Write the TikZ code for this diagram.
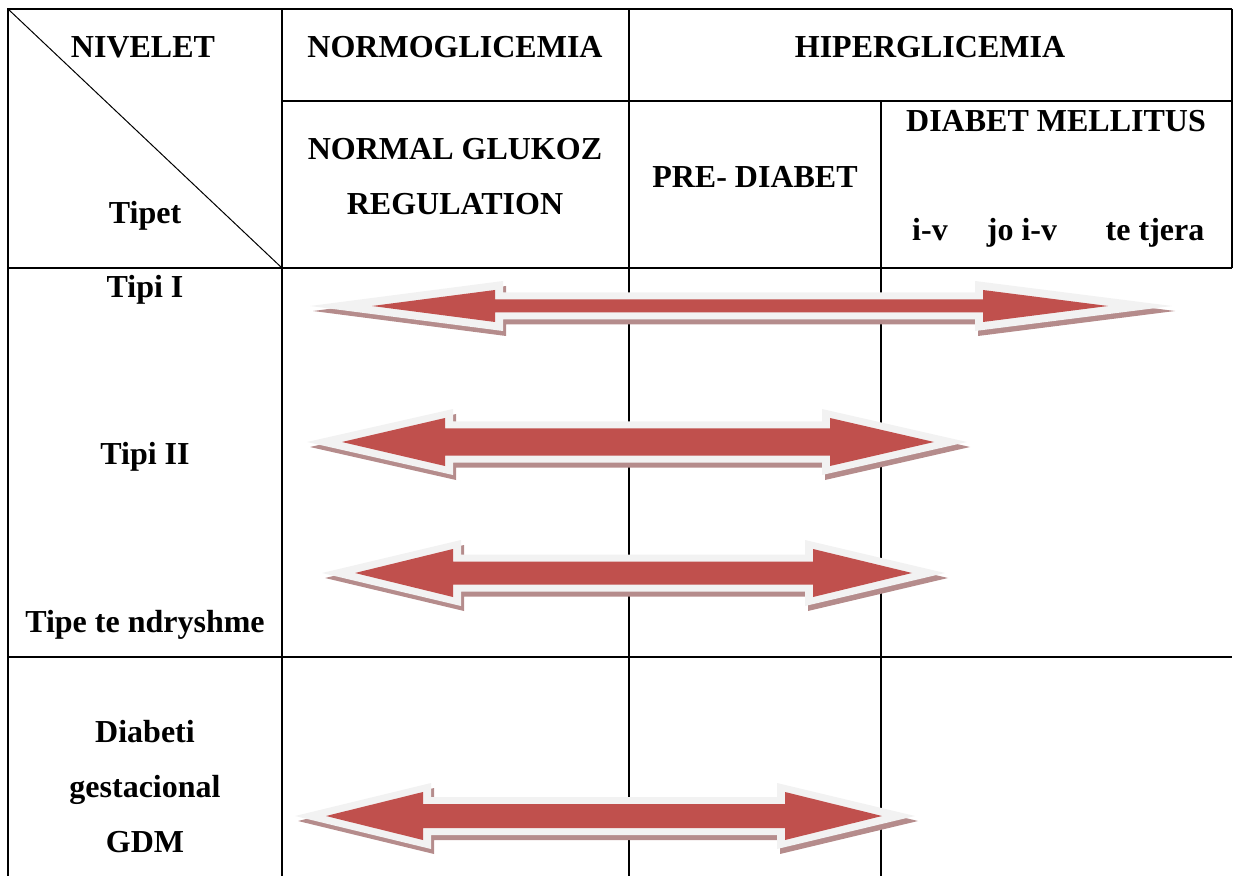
\documentclass[tikz,border=0pt]{standalone}
\usepackage{fontspec}
\setmainfont{Liberation Serif}
\definecolor{arrowbody}{HTML}{C0504D}
\definecolor{arrowrim}{HTML}{F2F2F2}
\definecolor{arrowshade}{HTML}{B58C8C}
\tikzset{
  rule/.style={line width=1.1pt},
  cell/.style={font=\bfseries\fontsize{16}{27.5}\selectfont, anchor=base, inner sep=0pt, align=center}
}
% outline of a double block arrow: centre y, left tip, right tip, left head back, right head back, head half, shaft half
\newcommand{\arrowpath}[7]{(#2,#1) -- ({#4},{#1-(#6)}) -- ({#4},{#1-(#7)}) -- ({#5},{#1-(#7)}) -- ({#5},{#1-(#6)})
  -- (#3,#1) -- ({#5},{#1+(#6)}) -- ({#5},{#1+(#7)}) -- ({#4},{#1+(#7)}) -- ({#4},{#1+(#6)}) -- cycle}
\newcommand{\dblarrow}[9]{%
  \fill[arrowshade,shift={(3,5)}] \arrowpath{#1}{#2}{#3}{#6+8}{#7-8}{#8+9}{#9+7};
  \fill[arrowrim] \arrowpath{#1}{#2}{#3}{#6+8}{#7-8}{#8+9}{#9+7};
  \fill[arrowbody] \arrowpath{#1}{#4}{#5}{#6}{#7}{#8}{#9};}
\begin{document}
\begin{tikzpicture}[x=0.5pt,y=-0.5pt]
  \useasboundingbox (0,0) rectangle (1235,876);
  % table
  \draw[rule] (1232,9) -- (8,9) -- (8,876);
  \draw[rule] (1232,9) -- (1232,268);
  \draw[rule] (282,9) -- (282,876);
  \draw[rule] (629,9) -- (629,876);
  \draw[rule] (881,101) -- (881,876);
  \draw[rule] (282,101) -- (1232,101);
  \draw[rule] (8,268) -- (1232,268);
  \draw[rule] (8,657) -- (1232,657);
  \draw[line width=0.5pt] (8,9) -- (282,268);
  % header
  \node[cell] (nivelet) at (143,58) {NIVELET};
  \node[cell] (tipet) at (145,224) {Tipet};
  \node[cell] (normo) at (455,58) {NORMOGLICEMIA};
  \node[cell] (hiper) at (930,58) {HIPERGLICEMIA};
  \node[cell] (ngr) at (455,215) {NORMAL GLUKOZ\\REGULATION};
  \node[cell] (prediab) at (755,188) {PRE- DIABET};
  \node[cell] (dm) at (1056,132) {DIABET MELLITUS};
  \node[cell] (iv) at (930,241) {i-v};
  \node[cell] (joiv) at (1022,241) {jo i-v};
  \node[cell] (tetjera) at (1155,241) {te tjera};
  % rows
  \node[cell] (tipi1) at (145,298) {Tipi I};
  \node[cell] (tipi2) at (145,465) {Tipi II};
  \node[cell] (tipendr) at (145,632) {Tipe te ndryshme};
  \node[cell] (gdm) at (145,852) {Diabeti\\gestacional\\GDM};
  % arrows
  \dblarrow{306}{310}{1172}{372}{1108}{495}{983}{16}{6.5}
  \dblarrow{442}{307}{967}{342}{934}{445}{830}{24}{13.5}
  \dblarrow{573}{322}{945}{355}{912}{453}{813}{24}{11.5}
  \dblarrow{816}{295}{915}{326}{882}{423}{785}{24}{12}
\end{tikzpicture}
\end{document}
